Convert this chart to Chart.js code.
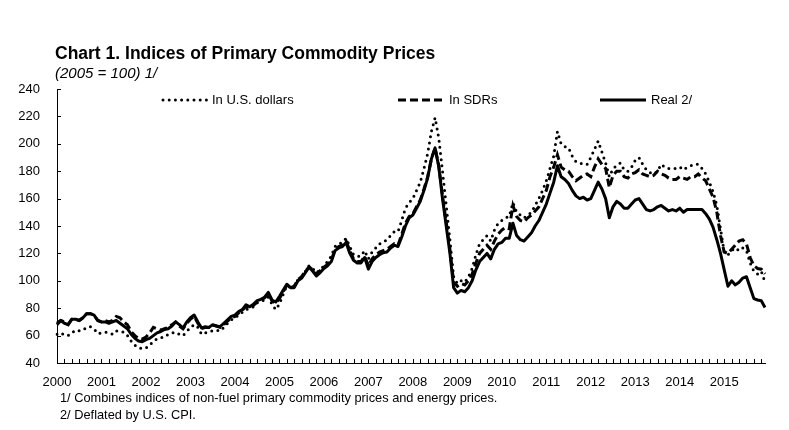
<!DOCTYPE html>
<html>
<head>
<meta charset="utf-8">
<script src="https://cdn.jsdelivr.net/npm/chart.js@4"></script>
<style>
  body { margin: 0; background: #fff; }
  #wrap { position: relative; width: 789px; height: 430px; font-family: "Liberation Sans", Arial, sans-serif; color: #000; }
  #wrap canvas { position: absolute; left: 0; top: 0; }
  .txt { position: absolute; white-space: nowrap; }
  .title { left: 55px; top: 45px; font-size: 17.5px; line-height: 17.5px; font-weight: bold; }
  .sub { left: 55px; top: 65px; font-size: 15px; line-height: 15px; font-style: italic; }
  .note { left: 60px; font-size: 12.8px; line-height: 12.8px; }
  .leg { top: 93px; font-size: 13px; line-height: 13px; display: flex; align-items: center; }
  .leg svg { margin-right: 4px; }
</style>
</head>
<body>
<div id="wrap">
  <canvas id="userChart" width="789" height="430"></canvas>
  <div class="txt title">Chart 1. Indices of Primary Commodity Prices</div>
  <div class="txt sub">(2005 = 100) 1/</div>
  <div class="txt leg" style="left:161px"><svg width="47" height="6"><line x1="2" y1="3" x2="46" y2="3" stroke="#000" stroke-width="3" stroke-linecap="round" stroke-dasharray="0 6.2"/></svg>In U.S. dollars</div>
  <div class="txt leg" style="left:398px"><svg width="47" height="6"><line x1="0" y1="3" x2="46" y2="3" stroke="#000" stroke-width="3" stroke-dasharray="8 4"/></svg>In SDRs</div>
  <div class="txt leg" style="left:600px"><svg width="47" height="6"><line x1="0" y1="3" x2="46" y2="3" stroke="#000" stroke-width="3"/></svg>Real 2/</div>
  <div class="txt note" style="top:392px">1/ Combines indices of non-fuel primary commodity prices and energy prices.</div>
  <div class="txt note" style="top:409px">2/ Deflated by U.S. CPI.</div>
</div>
<script>
const startYear = 2000;

// monthly index values, Jan 2000 - Dec 2015
const usd = [
  61, 62, 60.5, 60, 62, 64, 63.5, 64, 66, 66.5, 65, 61.5,
  62, 62.5, 62, 61, 63.5, 63, 62.5, 60, 56, 53, 51, 50.5,
  51, 53, 56, 57.5, 58.5, 59, 61, 62, 62.5, 61, 60, 63,
  66, 68, 66, 61, 62, 63, 63.5, 64, 63.5, 66, 69, 71.5,
  73, 75, 77, 79, 80, 81, 84, 85, 86, 88, 83, 79,
  83, 90, 96.5, 95, 96, 101, 103, 107, 111, 109, 106, 108,
  111, 114, 118, 125, 127, 128, 131, 125, 119, 118, 118, 122,
  116, 121, 124, 127, 128, 130, 133, 136, 136, 144, 153, 157,
  160, 166, 172, 182, 193, 209, 219, 204, 180, 155, 130, 103,
  98, 100, 99, 103, 109, 119, 127, 130, 133, 129, 137, 142,
  144, 146, 147, 157, 150, 148, 146, 148, 150, 155, 160, 166,
  173, 182, 191, 209, 200, 198, 197, 191, 187, 186, 185, 185,
  190, 196, 202, 194, 186, 176, 182, 184, 186, 181, 180, 183,
  188, 190, 185, 181, 179, 178, 180, 185, 183, 182, 182, 182,
  183, 181, 183, 184, 185, 185, 182, 178, 172, 165, 155, 138,
  121, 119, 122, 124, 122, 124, 122, 113, 107, 105, 107, 99
];
const sdr = [
  69, 71, 70, 68, 72, 72, 71, 73, 76, 76, 75, 71,
  70, 71, 70, 71, 74, 73, 70, 68, 63, 60, 58, 57.5,
  59, 62, 66, 65, 64, 65, 66, 68, 70, 67, 65, 69,
  72, 74, 69, 65, 66, 66, 67.5, 67, 66, 68, 70.5, 73,
  74, 76.5, 78.5, 81.5, 80, 82, 84.5, 86, 87.5, 90.5, 85.5, 83.5,
  87, 92, 97, 95, 96, 101, 103, 107, 110, 108, 105, 107.5,
  110, 112, 115, 123, 125, 126, 129, 122, 116, 114, 114, 118,
  111, 116, 119, 121, 122, 123, 125, 127, 126, 134, 142, 147,
  149, 154, 159, 167, 176, 189, 197, 184, 162, 143, 123, 99,
  96, 98, 97, 100, 105, 113, 120, 123, 126, 123, 129, 134,
  137, 139, 138, 155, 147, 144, 143, 146, 148, 151, 154, 160,
  166, 176, 183, 192, 183, 181, 180, 176, 173, 175, 177, 178,
  176, 183, 189, 185, 182, 168, 177, 180, 180, 176, 175, 178,
  179, 181, 178, 177, 176, 177, 180, 178, 177, 175, 174, 174,
  176, 175, 174, 176, 176, 178, 175, 173, 167, 161, 150, 133,
  121, 120, 123, 126, 129, 130, 127, 117, 111, 109, 108.5, 105
];
const real = [
  68, 71, 69, 68, 72, 72, 71, 73, 76, 76, 75, 71,
  70, 70, 69, 70, 71, 69, 67, 65, 61, 58, 56, 55.5,
  57, 58, 60, 62, 63, 64.5, 65, 67, 70, 68, 65.5, 70,
  73, 75, 70, 65.5, 66.5, 66, 68, 67, 66.5, 69, 71.5, 74,
  75, 77.5, 79, 82.5, 81, 83, 85.5, 86.5, 88, 91.5, 86, 84.5,
  88.5, 93, 97.5, 95, 95, 100, 102, 106, 110, 107, 103.5, 106,
  109, 111, 114, 122, 124, 125, 128, 120, 115, 113, 113, 117,
  108.5, 114, 117, 119, 120.5, 121, 124, 126, 125, 132, 140, 146,
  148, 153, 158, 166, 175, 189, 197, 183, 160, 140, 120, 95,
  91, 93, 92, 95, 100, 108, 114, 117, 120, 116, 123, 127,
  128, 131, 131, 142, 133, 130, 129, 132, 135, 140, 144, 150,
  156, 164, 172, 184, 176, 174, 171, 166, 162, 160, 161, 159,
  160, 166, 172, 167, 160, 146, 154, 158, 156, 153, 153, 156,
  159, 160, 156, 152, 151, 152, 154, 155, 153, 151, 152, 151,
  153, 150, 152, 152, 152, 152, 152, 149, 145, 139, 130, 120,
  108, 96, 100, 97, 99, 102, 103, 95, 87, 86, 85.5, 80.5
];

const months = [];
for (let i = 0; i < real.length; i++) {
  months.push((startYear + Math.floor(i / 12)) + '-' + String(i % 12 + 1).padStart(2, '0'));
}
const yTicks = [40, 60, 80, 100, 120, 140, 160, 180, 200, 220, 240];

// small tick marks pointing into the plot, like the original
const innerTicks = {
  id: 'innerTicks',
  afterDraw(chart) {
    const { ctx, chartArea, scales } = chart;
    ctx.save();
    ctx.strokeStyle = '#000';
    ctx.lineWidth = 1;
    ctx.beginPath();
    yTicks.forEach(v => {
      const y = Math.round(scales.y.getPixelForValue(v)) + 0.5;
      ctx.moveTo(chartArea.left, y);
      ctx.lineTo(chartArea.left + 4, y);
    });
    for (let i = 0; i < months.length; i += 2) {
      const x = Math.round(scales.x.getPixelForValue(i)) + 0.5;
      ctx.moveTo(x, chartArea.bottom);
      ctx.lineTo(x, chartArea.bottom - 4);
    }
    ctx.stroke();
    ctx.restore();
  }
};

const ctx = document.getElementById('userChart').getContext('2d');
new Chart(ctx, {
  type: 'line',
  data: {
    labels: months,
    datasets: [
      { label: 'In U.S. dollars', data: usd, borderColor: '#000', borderWidth: 3,
        borderDash: [0, 6.2], borderCapStyle: 'round', pointRadius: 0, tension: 0 },
      { label: 'In SDRs', data: sdr, borderColor: '#000', borderWidth: 3,
        borderDash: [8, 4], pointRadius: 0, tension: 0 },
      { label: 'Real 2/', data: real, borderColor: '#000', borderWidth: 3,
        borderJoinStyle: 'round', pointRadius: 0, tension: 0 }
    ]
  },
  options: {
    responsive: false,
    animation: false,
    layout: { padding: { top: 89, right: 24, left: 0, bottom: 0 } },
    plugins: { legend: { display: false }, tooltip: { enabled: false } },
    scales: {
      x: {
        type: 'category',
        grid: { display: false },
        border: { color: '#000', width: 1 },
        afterFit: s => { s.height = 67; },
        afterBuildTicks: s => { s.ticks = s.ticks.filter(t => t.value % 12 === 0); },
        ticks: {
          autoSkip: false, maxRotation: 0, padding: 4, color: '#000',
          font: { family: '"Liberation Sans", Arial, sans-serif', size: 13 },
          callback: (v) => String(startYear + v / 12)
        }
      },
      y: {
        min: 40, max: 240,
        grid: { display: false },
        border: { color: '#000', width: 1 },
        afterFit: s => { s.width = 57; },
        ticks: {
          stepSize: 20, padding: 9, color: '#000',
          font: { family: '"Liberation Sans", Arial, sans-serif', size: 13 }
        }
      }
    }
  },
  plugins: [innerTicks]
});
</script>
</body>
</html>
